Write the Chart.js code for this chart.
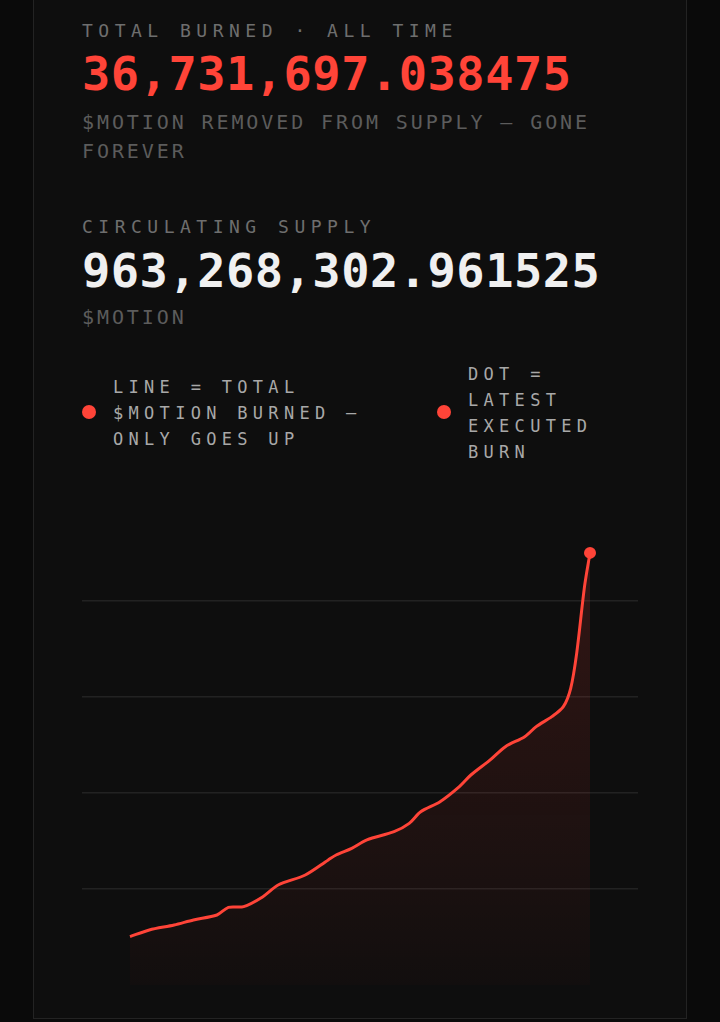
<!DOCTYPE html>
<html>
<head>
<meta charset="utf-8">
<script src="https://cdn.jsdelivr.net/npm/chart.js@4"></script>
<style>
  html, body { margin: 0; padding: 0; background: #0a0a0a; width: 720px; height: 1022px; overflow: hidden; }
  body { font-family: "DejaVu Sans Mono", monospace; position: relative; }
  .card { position: absolute; left: 33px; top: -10px; width: 652px; height: 1027px; background: #0e0e0e; border: 1px solid #232323; }
  .t { position: absolute; left: 82px; white-space: nowrap; }
  .label { font-size: 18px; letter-spacing: 5.5px; color: #6e6e6e; line-height: 24px; }
  .big { font-size: 47px; font-weight: bold; letter-spacing: 0.5px; line-height: 50px; }
  .sub { font-size: 20px; letter-spacing: 2.9px; color: #5c5c5c; line-height: 29px; white-space: normal; width: 560px; }
  .legend { position: absolute; top: 360px; font-size: 17px; letter-spacing: 5.3px; color: #a8a8a8; line-height: 26px; }
  .legend .dot { position: absolute; width: 14px; height: 14px; border-radius: 50%; background: #ff4438; }
  .legend .txt { position: absolute; }
  .chartbox { position: absolute; left: 76px; top: 499px; width: 568px; height: 492px; }
</style>
</head>
<body>
<div class="card"></div>
<div class="t label" style="top:19px">TOTAL BURNED · ALL TIME</div>
<div class="t big" style="top:49px;color:#ff4438">36,731,697.038475</div>
<div class="t sub" style="top:108px">$MOTION REMOVED FROM SUPPLY — GONE FOREVER</div>
<div class="t label" style="top:215px">CIRCULATING SUPPLY</div>
<div class="t big" style="top:246px;color:#f0f0f0">963,268,302.961525</div>
<div class="t sub" style="top:303px">$MOTION</div>

<div class="legend" style="left:82px">
  <div class="dot" style="left:0;top:45px"></div>
  <div class="txt" style="left:31px;top:14px;width:260px">LINE = TOTAL $MOTION BURNED — ONLY GOES UP</div>
</div>
<div class="legend" style="left:437px">
  <div class="dot" style="left:0;top:45px"></div>
  <div class="txt" style="left:31px;top:1px;width:150px">DOT = LATEST EXECUTED BURN</div>
</div>

<div class="chartbox"><canvas id="c"></canvas></div>

<script>
// progress through the burn history (0 = first burn, 100 = latest)
const days = [0, 4.2, 9.6, 13.8, 18.9, 21.4, 24.7, 28.9, 32.2, 38.1, 43.1, 44.8, 48.2, 51.5, 57.4,
  60.7, 63.2, 67.4, 71.6, 74.1, 78.3, 81.6, 85.8, 88.3, 91.7, 94.2, 95.8, 97.1, 98.8, 100]
// cumulative $MOTION burned, millions
const burned = [4.11, 4.68, 5.10, 5.53, 5.95, 6.60, 6.66, 7.51, 8.50, 9.35, 10.63, 11.05, 11.62, 12.33, 13.03,
  13.74, 14.73, 15.58, 16.86, 17.85, 19.13, 20.26, 21.11, 21.96, 22.81, 23.66, 25.22, 28.19, 33.86, 36.73]

const red = "#ff4438"
const points = days.map((d, i) => ({ x: d, y: burned[i] }))
const last = points.length - 1

const ctx = document.getElementById("c").getContext("2d")
const grad = ctx.createLinearGradient(0, 0, 0, 490)
grad.addColorStop(0, "rgba(255,68,56,0.17)")
grad.addColorStop(1, "rgba(255,68,56,0.02)")

new Chart(ctx, {
  type: "line",
  data: {
    datasets: [{
      data: points,
      borderColor: red,
      borderWidth: 3,
      tension: 0.3,
      fill: "origin",
      backgroundColor: grad,
      pointRadius: (c) => (c.dataIndex === last ? 6 : 0),
      pointBackgroundColor: red,
      pointBorderWidth: 0,
    }],
  },
  options: {
    responsive: true,
    maintainAspectRatio: false,
    animation: false,
    layout: { padding: 0 },
    plugins: { legend: { display: false }, tooltip: { enabled: false } },
    scales: {
      x: { type: "linear", min: -10.43, max: 110.43, display: false },
      y: {
        min: 0, max: 40.8,
        border: { display: false },
        ticks: { display: false, stepSize: 8.16 },
        grid: {
          color: (c) => (c.tick.value === 0 || c.tick.value > 40 ? "transparent" : "#222222"),
          lineWidth: 1.5,
          drawTicks: false,
        },
      },
    },
  },
})
</script>
</body>
</html>
